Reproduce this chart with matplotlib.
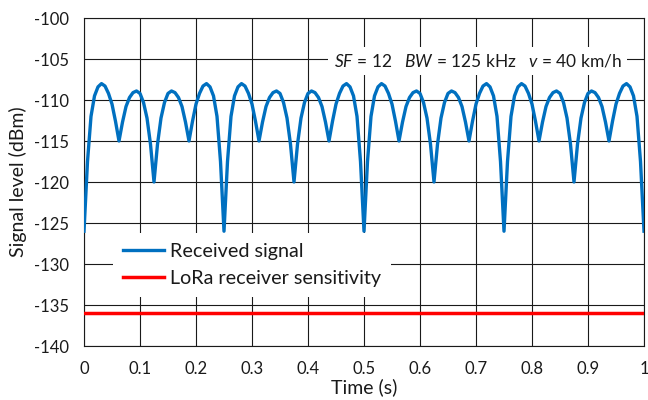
import numpy as np
import matplotlib
matplotlib.use("Agg")
import matplotlib.pyplot as plt

# ---- data ----
time_s = np.arange(161) / 160.0  # sampling grid, 0 .. 1 s

received_dbm = [
    # 0.00 - 0.25 s
    -126.0, -117.5, -112.0, -109.5, -108.4, -108.0, -108.3, -109.2, -110.5, -112.6,
    -115.0, -112.7, -110.8, -109.7, -109.1, -108.9, -109.2, -110.3, -112.2, -115.4,
    -120.0, -115.4, -112.2, -110.3, -109.2, -108.9, -109.1, -109.7, -110.8, -112.7,
    -115.0, -112.6, -110.5, -109.2, -108.3, -108.0, -108.4, -109.5, -112.0, -117.5,
    # 0.25 - 0.50 s
    -126.0, -117.5, -112.0, -109.5, -108.4, -108.0, -108.3, -109.2, -110.5, -112.6,
    -115.0, -112.7, -110.8, -109.7, -109.1, -108.9, -109.2, -110.3, -112.2, -115.4,
    -120.0, -115.4, -112.2, -110.3, -109.2, -108.9, -109.1, -109.7, -110.8, -112.7,
    -115.0, -112.6, -110.5, -109.2, -108.3, -108.0, -108.4, -109.5, -112.0, -117.5,
    # 0.50 - 0.75 s
    -126.0, -117.5, -112.0, -109.5, -108.4, -108.0, -108.3, -109.2, -110.5, -112.6,
    -115.0, -112.7, -110.8, -109.7, -109.1, -108.9, -109.2, -110.3, -112.2, -115.4,
    -120.0, -115.4, -112.2, -110.3, -109.2, -108.9, -109.1, -109.7, -110.8, -112.7,
    -115.0, -112.6, -110.5, -109.2, -108.3, -108.0, -108.4, -109.5, -112.0, -117.5,
    # 0.75 - 1.00 s
    -126.0, -117.5, -112.0, -109.5, -108.4, -108.0, -108.3, -109.2, -110.5, -112.6,
    -115.0, -112.7, -110.8, -109.7, -109.1, -108.9, -109.2, -110.3, -112.2, -115.4,
    -120.0, -115.4, -112.2, -110.3, -109.2, -108.9, -109.1, -109.7, -110.8, -112.7,
    -115.0, -112.6, -110.5, -109.2, -108.3, -108.0, -108.4, -109.5, -112.0, -117.5,
    -126.0,
]
sensitivity_dbm = -136.0

x_ticks = [0, 0.1, 0.2, 0.3, 0.4, 0.5, 0.6, 0.7, 0.8, 0.9, 1.0]
x_tick_labels = ["0", "0.1", "0.2", "0.3", "0.4", "0.5", "0.6", "0.7", "0.8", "0.9", "1"]
y_ticks = [-140, -135, -130, -125, -120, -115, -110, -105, -100]
y_tick_labels = ["-140", "-135", "-130", "-125", "-120", "-115", "-110", "-105", "-100"]

series_labels = ["Received signal", "LoRa receiver sensitivity"]

# ---- style ----
plt.rcParams['font.family'] = ['Lato', 'DejaVu Sans']
plt.rcParams['mathtext.fontset'] = 'custom'
plt.rcParams['mathtext.rm'] = 'Lato'
plt.rcParams['mathtext.it'] = 'Lato:italic'

fig = plt.figure(figsize=(6.48, 4.0), dpi=100)
ax = fig.add_axes([84/648, 1 - 346/400, (644 - 84)/648, (346 - 18)/400])

blue = "#0070C0"
red = "#FF0000"
ink = "#1a1a1a"

ax.plot(time_s, received_dbm, color=blue, lw=2.4, label=series_labels[0],
        solid_joinstyle='round', zorder=3)
ax.axhline(sensitivity_dbm, color=red, lw=2.5, label=series_labels[1], zorder=3)

ax.set_xlim(0, 1)
ax.set_ylim(-140, -100)
ax.set_xticks(x_ticks)
ax.set_xticklabels(x_tick_labels)
ax.set_yticks(y_ticks)
ax.set_yticklabels(y_tick_labels)
ax.tick_params(axis='both', length=0, labelsize=12, pad=11, colors=ink)
ax.grid(True, color=ink, lw=0.8)
ax.set_axisbelow(True)
for s in ax.spines.values():
    s.set_color(ink)
    s.set_linewidth(0.8)

ax.set_xlabel("Time (s)", fontsize=14, color=ink, labelpad=1)
ax.set_ylabel("Signal level (dBm)", fontsize=14, color=ink, labelpad=5)

leg = ax.legend(loc='upper left', bbox_to_anchor=(113/648, 1 - 233/400),
                bbox_transform=fig.transFigure, borderaxespad=0,
                frameon=True, fancybox=False, framealpha=1,
                facecolor='white', edgecolor='none',
                fontsize=14.2, handlelength=2.1, handletextpad=0.3,
                labelspacing=0.52, borderpad=0.5)
leg.set_zorder(5)
for t in leg.get_texts():
    t.set_color(ink)

ax.text(0.703, -105.2, r"$\mathit{SF}$ = 12   $\mathit{BW}$ = 125 kHz   $\mathit{v}$ = 40 km/h",
        ha='center', va='center', fontsize=12.5, color=ink, zorder=6,
        bbox=dict(facecolor='white', edgecolor='none', pad=4))

fig.savefig("out.png", dpi=100)
